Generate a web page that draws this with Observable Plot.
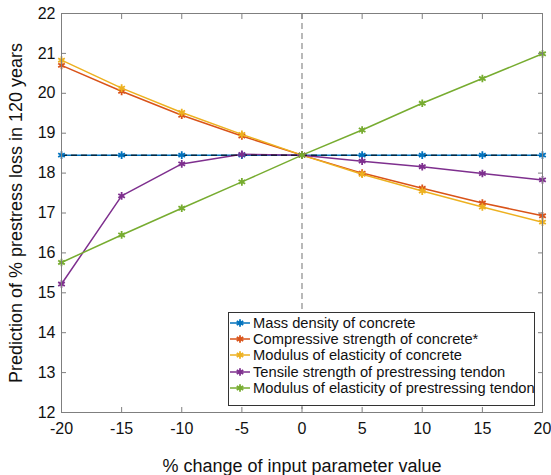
<!DOCTYPE html>
<html>
<head>
<meta charset="utf-8">
<script src="https://cdn.jsdelivr.net/npm/d3@7"></script>
<script src="https://cdn.jsdelivr.net/npm/@observablehq/plot@0.6"></script>
<style>
  html, body { margin: 0; padding: 0; background: #fff; }
  #wrap { position: relative; width: 551px; height: 475px; font-family: "Liberation Sans", Arial, sans-serif; }
  #legend { position: absolute; left: 228px; top: 312px; width: 307px; height: 94px; border: 1px solid #333; background: #fff; box-sizing: border-box; padding-top: 2px; }
  .row { display: flex; align-items: center; height: 16.2px; font-size: 14.7px; color: #111; white-space: nowrap; }
  .row svg { flex: none; margin-right: 1px; }
</style>
</head>
<body>
<div id="wrap"><div id="chart"></div><div id="legend"></div></div>
<script>
const pct = [-20, -15, -10, -5, 0, 5, 10, 15, 20];
const seriesNames = [
  "Mass density of concrete",
  "Compressive strength of concrete*",
  "Modulus of elasticity of concrete",
  "Tensile strength of prestressing tendon",
  "Modulus of elasticity of prestressing tendon"
];
const massDensity   = [18.45, 18.45, 18.45, 18.45, 18.45, 18.45, 18.45, 18.45, 18.45];
const compStrength  = [20.70, 20.05, 19.45, 18.93, 18.45, 18.00, 17.62, 17.25, 16.93];
const modConcrete   = [20.83, 20.13, 19.52, 18.97, 18.45, 17.97, 17.55, 17.15, 16.77];
const tensileTendon = [15.22, 17.43, 18.23, 18.47, 18.45, 18.30, 18.16, 17.99, 17.83];
const modTendon     = [15.76, 16.45, 17.12, 17.78, 18.45, 19.08, 19.75, 20.37, 20.99];
const colors = ["#0072BD", "#D95319", "#EDB120", "#7E2F8E", "#77AC30"];
const xTicks = [-20, -15, -10, -5, 0, 5, 10, 15, 20];
const yTicks = [12, 13, 14, 15, 16, 17, 18, 19, 20, 21, 22];
const baseline = [18.45];
const zeroLine = [0];

const allSeries = [massDensity, compStrength, modConcrete, tensileTendon, modTendon];
const data = allSeries.flatMap((vals, i) => vals.map((v, j) => ({x: pct[j], y: v, s: seriesNames[i]})));

const axisColor = "#7f7f7f";
const fmt = d => String(d);
const chart = Plot.plot({
  width: 551,
  height: 475,
  marginLeft: 61,
  marginRight: 9,
  marginTop: 13,
  marginBottom: 63,
  style: { fontFamily: "'Liberation Sans', Arial, sans-serif", fontSize: "16px", color: "#222", background: "#fff" },
  x: { domain: [-20, 20] },
  y: { domain: [12, 22] },
  color: { domain: seriesNames, range: colors },
  marks: [
    Plot.ruleX(zeroLine, { stroke: "#8a8a8a", strokeWidth: 1.2, strokeDasharray: "6,4" }),
    Plot.line(data, { x: "x", y: "y", z: "s", stroke: "s", strokeWidth: 1.5 }),
    Plot.ruleY(baseline, { stroke: "#000", strokeWidth: 1, strokeDasharray: "6,4" }),
    Plot.dot(data, { x: "x", y: "y", stroke: "s", symbol: "asterisk", r: 3.6, strokeWidth: 1.8 }),
    Plot.frame({ stroke: axisColor }),
    Plot.axisX({ ticks: xTicks, tickFormat: fmt, tickSize: -5, tickPadding: 15, stroke: axisColor, fontSize: 16, color: "#111", label: null }),
    Plot.axisX({ ticks: [], fontSize: 18, color: "#111", tickSize: 0,
                 label: "% change of input parameter value", labelAnchor: "center", labelArrow: "none", labelOffset: 59 }),
    Plot.axisX({ anchor: "top", ticks: xTicks, tickSize: -5, stroke: axisColor, label: null, tickFormat: () => "" }),
    Plot.axisY({ ticks: yTicks, tickFormat: fmt, tickSize: -5, tickPadding: 11, stroke: axisColor, fontSize: 16, color: "#111", label: null }),
    Plot.axisY({ ticks: [], fontSize: 18, color: "#111", tickSize: 0,
                 label: "Prediction of % prestress loss in 120 years", labelAnchor: "center", labelArrow: "none", labelOffset: 52 }),
    Plot.axisY({ anchor: "right", ticks: yTicks, tickSize: -5, stroke: axisColor, label: null, tickFormat: () => "" })
  ]
});
document.getElementById("chart").appendChild(chart);

// Legend
const legend = document.getElementById("legend");
const sym = d3.symbol(d3.symbolAsterisk, 40)();
seriesNames.forEach((name, i) => {
  const row = document.createElement("div");
  row.className = "row";
  row.innerHTML = `<svg width="23" height="12"><line x1="1" x2="21" y1="6" y2="6" stroke="${colors[i]}" stroke-width="1.5"/><path d="${sym}" transform="translate(11,6)" fill="none" stroke="${colors[i]}" stroke-width="1.8"/></svg><span>${name}</span>`;
  legend.appendChild(row);
});
</script>
</body>
</html>
